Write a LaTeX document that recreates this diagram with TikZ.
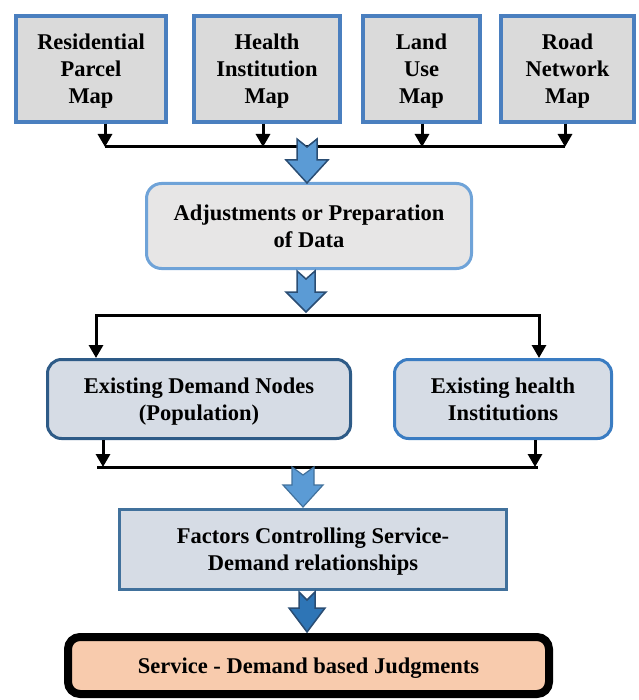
\documentclass[tikz,border=0pt]{standalone}
\usepackage{fontspec}
\setmainfont{Liberation Serif}
\usetikzlibrary{arrows.meta}
\definecolor{topblue}{HTML}{4A7FBF}
\definecolor{topfill}{HTML}{DADADA}
\definecolor{adjblue}{HTML}{6FA3D8}
\definecolor{adjfill}{HTML}{E7E6E6}
\definecolor{demblue}{HTML}{2E5B87}
\definecolor{hlthblue}{HTML}{3A7CC2}
\definecolor{facblue}{HTML}{41719C}
\definecolor{midfill}{HTML}{D6DCE5}
\definecolor{finfill}{HTML}{F8CBAD}
\definecolor{arrfill}{HTML}{5B9BD5}
\definecolor{arrline}{HTML}{2A4D73}
\definecolor{arrdark}{HTML}{2E75B6}
\newcommand\blockarrow[7]{% cx, top, tip, shaft hw, head start, head hw, style
  \draw[#7] (#1-#4,#2) -- (#1,#2+8) -- (#1+#4,#2) -- (#1+#4,#5) -- (#1+#6,#5)
    -- (#1,#3) -- (#1-#6,#5) -- (#1-#4,#5) -- cycle;}
\begin{document}
\begin{tikzpicture}[x=1pt,y=-1pt,
  txt/.style={font=\bfseries\fontsize{22.5}{27}\selectfont, align=center, inner sep=0pt, text depth=0pt},
  mapbox/.style={txt, draw=topblue, fill=topfill, line width=3.5pt},
  adjbox/.style={txt, draw=adjblue, fill=adjfill, line width=3pt, rounded corners=15pt},
  midbox/.style={txt, fill=midfill, line width=3pt, rounded corners=14pt},
  facbox/.style={txt, draw=facblue, fill=midfill, line width=3pt},
  finbox/.style={txt, draw=black, fill=finfill, line width=8pt, rounded corners=12pt},
  bus/.style={line width=3pt, black},
  smallarrow/.style={line width=3pt, black, -{Triangle[width=14pt,length=13pt]}},
  barr/.style={fill=arrfill, draw=arrline, line width=1.5pt, line join=miter},
  barrlight/.style={fill=arrfill, draw=facblue, line width=1.2pt},
  barrdark/.style={fill=arrdark, draw=arrline, line width=1.5pt}
]
\useasboundingbox (0,0) rectangle (638,700);

% top map boxes
\node[mapbox, minimum width=150pt, minimum height=106pt] (b1) at (91,69) {Residential\\Parcel\\Map};
\node[mapbox, minimum width=146pt, minimum height=106pt] (b2) at (267,69) {Health\\Institution\\Map};
\node[mapbox, minimum width=117pt, minimum height=106pt] (b3) at (421.5,69) {Land\\Use\\Map};
\node[mapbox, minimum width=133pt, minimum height=106pt] (b4) at (567.5,69) {Road\\Network\\Map};

% adjustments
\node[adjbox, minimum width=325pt, minimum height=85pt] (adj) at (309,226) {Adjustments or Preparation\\of Data};

% middle boxes
\node[midbox, draw=demblue, minimum width=303pt, minimum height=79pt] (dem) at (199,399) {Existing Demand Nodes\\(Population)};
\node[midbox, draw=hlthblue, minimum width=217pt, minimum height=79pt] (hlth) at (503,399) {Existing health\\Institutions};

% factors
\node[facbox, minimum width=387pt, minimum height=80pt] (fac) at (313,549.5) {Factors Controlling Service-\\Demand relationships};

% final
\node[finbox, minimum width=481pt, minimum height=57pt] (fin) at (308.5,665.5) {Service - Demand based Judgments};

% bus 1
\coordinate (j1) at (105,147);
\coordinate (j2) at (263,147);
\coordinate (j3) at (422,147);
\coordinate (j4) at (565,147);
\draw[bus] (j1) -- (j4);
\draw[smallarrow] (b1.south -| j1) -- (j1);
\draw[smallarrow] (b2.south -| j2) -- (j2);
\draw[smallarrow] (b3.south -| j3) -- (j3);
\draw[smallarrow] (b4.south -| j4) -- (j4);

% bus 2
\coordinate (k1) at (96,315);
\coordinate (k2) at (539,315);
\draw[bus, line cap=rect] (k1) -- (k2);
\draw[smallarrow] (k1) -- (dem.north -| k1);
\draw[smallarrow] (k2) -- (hlth.north -| k2);

% bus 3
\coordinate (m1) at (103,467);
\coordinate (m2) at (535,467);
\draw[bus] (97,467) -- (538,467);
\draw[smallarrow] (dem.south -| m1) -- (m1);
\draw[smallarrow] (hlth.south -| m2) -- (m2);

% block arrows
\blockarrow{307}{139}{183}{10}{160}{21}{barr}
\blockarrow{306}{271}{312}{9}{292}{20}{barr}
\blockarrow{303}{467}{507}{11}{485}{20}{barrlight}
\blockarrow{307}{592}{632}{8}{608}{18}{barrdark}
\end{tikzpicture}
\end{document}
